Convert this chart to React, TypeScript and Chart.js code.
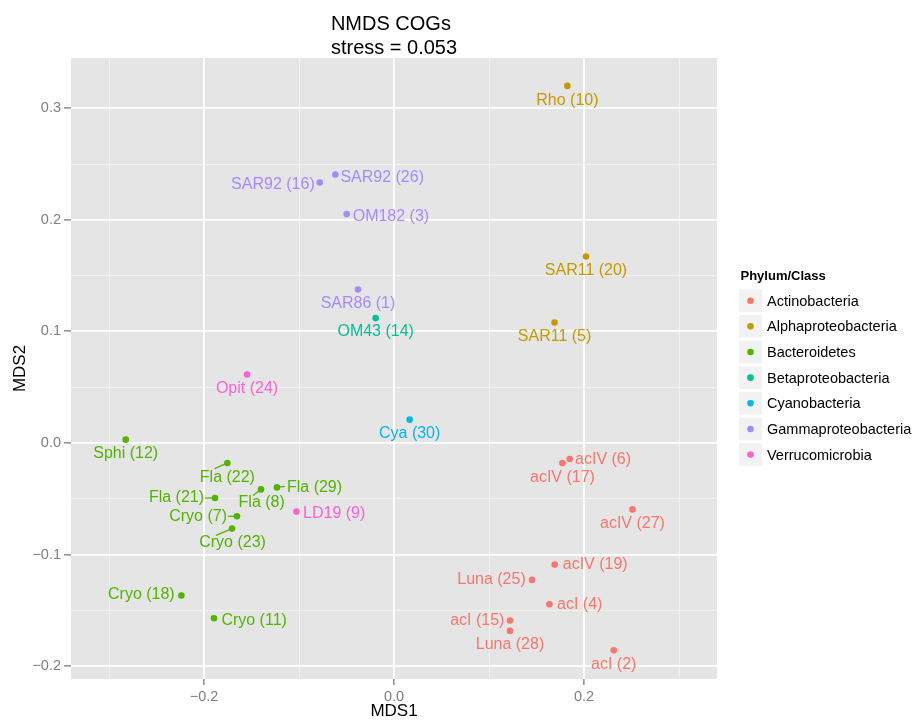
import React, { useEffect, useRef } from 'react';
import { Chart, registerables } from 'chart.js';

Chart.register(...registerables);

// ---- Data ----
const phyla = [
  'Actinobacteria',
  'Alphaproteobacteria',
  'Bacteroidetes',
  'Betaproteobacteria',
  'Cyanobacteria',
  'Gammaproteobacteria',
  'Verrucomicrobia',
];
const phylumColors = ['#F8766D', '#C49A00', '#53B400', '#00C094', '#00B6EB', '#A58AFF', '#FB61D7'];

const pointLabels = [
  'Rho (10)', 'SAR11 (20)', 'SAR11 (5)', 'SAR92 (26)', 'SAR92 (16)', 'OM182 (3)', 'SAR86 (1)',
  'OM43 (14)', 'Opit (24)', 'Cya (30)', 'Sphi (12)', 'Fla (22)', 'Fla (29)', 'Fla (8)',
  'Fla (21)', 'Cryo (7)', 'Cryo (23)', 'LD19 (9)', 'Cryo (18)', 'Cryo (11)', 'acIV (6)',
  'acIV (17)', 'acIV (27)', 'acIV (19)', 'Luna (25)', 'acI (4)', 'acI (15)', 'Luna (28)', 'acI (2)',
];
// index into phyla
const pointPhylum = [1, 1, 1, 5, 5, 5, 5, 3, 6, 4, 2, 2, 2, 2, 2, 2, 2, 6, 2, 2, 0, 0, 0, 0, 0, 0, 0, 0, 0];
const mds1 = [
  0.1825, 0.2021, 0.169, -0.0617, -0.0782, -0.0498, -0.0379,
  -0.0193, -0.1547, 0.0165, -0.2824, -0.1754, -0.1232, -0.14,
  -0.1884, -0.1653, -0.1705, -0.1027, -0.2238, -0.1895, 0.185,
  0.1773, 0.251, 0.1692, 0.1453, 0.1636, 0.1221, 0.1221, 0.2313,
];
const mds2 = [
  0.32, 0.1671, 0.108, 0.2405, 0.2334, 0.2051, 0.1376,
  0.1119, 0.0614, 0.0209, 0.003, -0.0179, -0.0398, -0.0416,
  -0.0493, -0.0657, -0.0767, -0.0615, -0.1367, -0.157, -0.0143,
  -0.0179, -0.0595, -0.109, -0.1227, -0.1445, -0.1591, -0.1684, -0.1857,
];

const xMajorTicks = [-0.2, 0, 0.2];
const xMinorTicks = [-0.3, -0.1, 0.1, 0.3];
const yMajorTicks = [-0.2, -0.1, 0, 0.1, 0.2, 0.3];
const yMinorTicks = [-0.15, -0.05, 0.05, 0.15, 0.25];
const xRange = [-0.34, 0.34];
const yRange = [-0.2115, 0.345];

const titleLines = ['NMDS COGs', 'stress = 0.053'];
const xTitle = 'MDS1';
const yTitle = 'MDS2';
const legendTitle = 'Phylum/Class';

// ---- Label placement (pixel offsets from the point; separate from data) ----
// [align, dx, dy, segDx, segDy]
type Place = [CanvasTextAlign, number, number, number | null, number | null];
const labelPlacement: Place[] = [
  ['center', 0, 13, null, null],
  ['center', 0, 12.7, null, null],
  ['center', 0, 12.7, null, null],
  ['left', 5, 1.3, null, null],
  ['right', -5, 0.6, null, null],
  ['left', 6, 0.5, null, null],
  ['center', 0, 12.7, null, null],
  ['center', 0, 12.4, null, null],
  ['center', 0, 12.3, null, null],
  ['center', 0, 12.3, null, null],
  ['center', 0, 12.7, null, null],
  ['center', 0, 12.7, -12.7, 5.7],
  ['left', 10, -1.5, 8, -1],
  ['center', 0.7, 12, -8, 6],
  ['right', -11, -1.6, -10, 0],
  ['right', -10, -1, -9, 0],
  ['center', 0.5, 12.7, -16, 6.7],
  ['left', 6.6, 0.7, null, null],
  ['right', -6.7, -2, null, null],
  ['left', 7.4, 1, null, null],
  ['left', 5.3, -1.3, null, null],
  ['center', 0, 12.7, null, null],
  ['center', 0, 12.6, null, null],
  ['left', 8, -1.7, null, null],
  ['right', -6.3, -2, null, null],
  ['left', 7.6, -1.4, null, null],
  ['right', -5.6, -1.7, null, null],
  ['center', 0, 12, null, null],
  ['center', 0, 12.6, null, null],
];
const LABEL_BASELINE_SHIFT = 1.5;

const FONT = '"Liberation Sans", Arial, Helvetica, sans-serif';

const fmt = (v: number) => (Math.abs(v) < 1e-9 ? '0.0' : (v < 0 ? '\u2212' : '') + Math.abs(v).toFixed(1));
const isMajor = (list: number[], v: number) => list.some((m) => Math.abs(m - v) < 1e-9);

const panelPlugin = {
  id: 'panelBg',
  beforeDraw(chart: any) {
    const { ctx, chartArea: a } = chart;
    ctx.save();
    ctx.fillStyle = '#E5E5E5';
    ctx.fillRect(a.left, a.top, a.right - a.left, a.bottom - a.top);
    ctx.restore();
  },
};

const labelPlugin = {
  id: 'pointLabels',
  afterDatasetsDraw(chart: any) {
    const { ctx } = chart;
    const xs = chart.scales.x;
    const ys = chart.scales.y;
    ctx.save();
    ctx.font = `16px ${FONT}`;
    ctx.textBaseline = 'middle';
    pointLabels.forEach((lab, j) => {
      const col = phylumColors[pointPhylum[j]];
      const px = xs.getPixelForValue(mds1[j]);
      const py = ys.getPixelForValue(mds2[j]);
      const [align, dx, dy, sdx, sdy] = labelPlacement[j];
      if (sdx !== null && sdy !== null) {
        ctx.strokeStyle = col;
        ctx.lineWidth = 1.3;
        ctx.beginPath();
        ctx.moveTo(px, py);
        ctx.lineTo(px + sdx, py + sdy);
        ctx.stroke();
      }
      ctx.fillStyle = col;
      ctx.textAlign = align;
      ctx.fillText(lab, px + dx, py + dy + LABEL_BASELINE_SHIFT);
    });
    ctx.restore();
  },
};

const decorPlugin = {
  id: 'decor',
  afterDraw(chart: any) {
    const { ctx, chartArea: a } = chart;
    ctx.save();
    // Title
    ctx.fillStyle = '#000';
    ctx.font = `20px ${FONT}`;
    ctx.textAlign = 'left';
    ctx.textBaseline = 'alphabetic';
    const w = Math.max(...titleLines.map((t) => ctx.measureText(t).width));
    const cx = (a.left + a.right) / 2;
    ctx.fillText(titleLines[0], cx - w / 2, 30.2);
    ctx.fillText(titleLines[1], cx - w / 2, 53.7);

    // Axis titles
    ctx.font = `17px ${FONT}`;
    ctx.textAlign = 'center';
    ctx.textBaseline = 'middle';
    ctx.fillText(xTitle, cx, 711);
    ctx.save();
    ctx.translate(20, (a.top + a.bottom) / 2);
    ctx.rotate(-Math.PI / 2);
    ctx.fillText(yTitle, 0, 0);
    ctx.restore();

    // Legend
    ctx.textAlign = 'left';
    ctx.font = `bold 13px ${FONT}`;
    ctx.fillText(legendTitle, 740.5, 276.5);
    ctx.font = `14.5px ${FONT}`;
    phyla.forEach((p, i) => {
      const cy = 300.7 + i * 25.65;
      ctx.fillStyle = '#F2F2F2';
      ctx.fillRect(739, cy - 11.3, 23, 22.6);
      ctx.fillStyle = phylumColors[i];
      ctx.beginPath();
      ctx.arc(750.5, cy, 3.3, 0, Math.PI * 2);
      ctx.fill();
      ctx.fillStyle = '#000';
      ctx.fillText(p, 767, cy + 1);
    });
    ctx.restore();
  },
};

export default function App() {
  const ref = useRef<HTMLCanvasElement | null>(null);
  useEffect(() => {
    if (!ref.current) return;
    const datasets = phyla.map((p, i) => ({
      label: p,
      data: pointLabels
        .map((_, j) => j)
        .filter((j) => pointPhylum[j] === i)
        .map((j) => ({ x: mds1[j], y: mds2[j] })),
      backgroundColor: phylumColors[i],
      borderWidth: 0,
      pointRadius: 3.3,
      pointHoverRadius: 3.3,
    }));
    const gridColor = (majors: number[]) => (c: any) =>
      c.tick && isMajor(majors, c.tick.value) ? '#FFFFFF' : '#F2F2F2';
    const gridWidth = (majors: number[]) => (c: any) =>
      c.tick && isMajor(majors, c.tick.value) ? 1.8 : 0.9;
    const tickColor = (majors: number[]) => (c: any) =>
      c.tick && isMajor(majors, c.tick.value) ? '#555555' : 'rgba(0,0,0,0)';

    const chart = new Chart(ref.current, {
      type: 'scatter',
      data: { datasets },
      plugins: [panelPlugin, labelPlugin, decorPlugin],
      options: {
        animation: false,
        responsive: true,
        maintainAspectRatio: false,
        events: [],
        layout: { padding: { top: 58, right: 197, left: 0, bottom: 0 } },
        plugins: { legend: { display: false }, title: { display: false }, tooltip: { enabled: false } },
        scales: {
          x: {
            type: 'linear',
            min: xRange[0],
            max: xRange[1],
            afterBuildTicks: (s: any) => {
              s.ticks = [...xMajorTicks, ...xMinorTicks].sort((a, b) => a - b).map((v) => ({ value: v }));
            },
            afterFit: (s: any) => {
              s.height = 41;
            },
            border: { display: false },
            grid: {
              color: gridColor(xMajorTicks),
              lineWidth: gridWidth(xMajorTicks),
              tickColor: tickColor(xMajorTicks),
              tickLength: 6,
              tickWidth: 1,
            },
            ticks: {
              autoSkip: false,
              maxRotation: 0,
              padding: 3,
              color: '#7F7F7F',
              font: { family: FONT, size: 14.5 },
              callback: (v: any) => (isMajor(xMajorTicks, Number(v)) ? fmt(Number(v)) : ''),
            },
          },
          y: {
            type: 'linear',
            min: yRange[0],
            max: yRange[1],
            afterBuildTicks: (s: any) => {
              s.ticks = [...yMajorTicks, ...yMinorTicks].sort((a, b) => a - b).map((v) => ({ value: v }));
            },
            afterFit: (s: any) => {
              s.width = 71;
            },
            border: { display: false },
            grid: {
              color: gridColor(yMajorTicks),
              lineWidth: gridWidth(yMajorTicks),
              tickColor: tickColor(yMajorTicks),
              tickLength: 7,
              tickWidth: 1,
            },
            ticks: {
              autoSkip: false,
              padding: 3,
              color: '#7F7F7F',
              font: { family: FONT, size: 14.5 },
              callback: (v: any) => (isMajor(yMajorTicks, Number(v)) ? fmt(Number(v)) : ''),
            },
          },
        },
      } as any,
    });
    return () => chart.destroy();
  }, []);
  return (
    <div style={{ position: 'absolute', left: 0, top: 0, width: 914, height: 720, background: '#fff' }}>
      <canvas ref={ref} />
    </div>
  );
}
